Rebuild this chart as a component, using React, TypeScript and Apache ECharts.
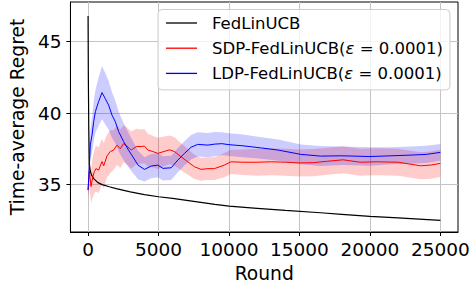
import React, { useEffect, useRef } from "react";
import * as echarts from "echarts";

// ---------- data ----------
const fedX = [0, 20, 50, 90, 150, 250, 400, 700, 1000, 1500, 2000, 3000, 4000, 5000, 6000, 7000, 8000, 9000, 10000, 12000, 14000, 16500, 18000, 20000, 22000, 25000];
const fedY = [46.8, 42.5, 39.0, 36.4, 35.95, 35.65, 35.4, 35.12, 34.98, 34.83, 34.7, 34.47, 34.28, 34.13, 34.02, 33.88, 33.74, 33.6, 33.48, 33.32, 33.17, 33.01, 32.9, 32.76, 32.65, 32.47];

const sdpX = [0, 90, 210, 330, 450, 560, 750, 990, 1110, 1350, 1580, 1810, 2050, 2290, 2520, 2750, 3060, 3420, 3770, 4000, 4250, 4600, 4950, 5310, 5780, 6130, 6600, 7080, 7550, 8020, 8500, 8960, 9670, 10140, 11000, 12000, 13000, 14000, 15000, 16000, 17000, 18100, 19300, 20500, 22000, 23600, 24300, 25000];
const sdpMean = [34.6, 35.9, 34.85, 35.5, 35.9, 36.1, 36.0, 36.6, 36.3, 37.0, 37.3, 37.4, 37.75, 37.5, 37.85, 37.7, 37.4, 37.65, 37.65, 37.68, 37.4, 37.3, 37.17, 37.28, 37.42, 37.3, 36.93, 36.58, 36.23, 36.05, 36.1, 36.1, 36.35, 36.58, 36.55, 36.55, 36.58, 36.55, 36.5, 36.52, 36.62, 36.72, 36.55, 36.58, 36.55, 36.3, 36.35, 36.47];
const sdpHalf = [0.6, 1.0, 1.2, 1.4, 1.5, 1.6, 1.6, 1.6, 1.6, 1.5, 1.5, 1.4, 1.4, 1.35, 1.3, 1.3, 1.3, 1.25, 1.2, 1.2, 1.15, 1.1, 1.1, 1.05, 1.0, 1.0, 0.95, 0.9, 0.85, 0.8, 0.8, 0.8, 0.85, 0.85, 0.9, 0.95, 0.95, 0.95, 0.95, 0.95, 0.95, 0.95, 0.95, 0.95, 0.95, 0.95, 0.95, 0.95];

const ldpX = [0, 80, 160, 280, 400, 520, 750, 990, 1225, 1460, 1700, 1930, 2170, 2520, 2870, 3230, 3540, 4000, 4480, 4950, 5310, 5900, 6370, 6840, 7310, 7780, 8500, 9000, 9500, 10000, 11000, 12300, 13500, 15100, 16500, 18000, 20000, 21500, 22900, 24000, 25000];
const ldpMean = [34.6, 36.0, 37.75, 38.45, 39.4, 40.1, 40.8, 41.43, 41.0, 40.55, 39.85, 39.4, 38.7, 38.0, 37.4, 36.85, 36.35, 36.05, 36.28, 36.35, 36.12, 36.16, 36.7, 37.17, 37.6, 37.8, 37.75, 37.82, 37.85, 37.78, 37.7, 37.55, 37.4, 37.1, 36.98, 37.0, 36.95, 37.0, 37.05, 37.1, 37.24];
const ldpHalf = [0.5, 0.8, 1.0, 1.2, 1.4, 1.5, 1.7, 1.85, 1.8, 1.7, 1.6, 1.5, 1.4, 1.3, 1.2, 1.1, 1.0, 0.85, 0.85, 0.85, 0.85, 0.85, 0.85, 0.85, 0.85, 0.85, 0.85, 0.85, 0.8, 0.8, 0.8, 0.75, 0.75, 0.7, 0.7, 0.65, 0.65, 0.6, 0.6, 0.6, 0.58];

const xTicks = [0, 5000, 10000, 15000, 20000, 25000];
const yTicks = [35, 40, 45];

const names = ["FedLinUCB", "SDP-FedLinUCB(ε = 0.0001)", "LDP-FedLinUCB(ε = 0.0001)"];
const colors = ["#000000", "#ff0000", "#0000ff"];
// -----------------------------------------------------

const FONT = "DejaVu Sans";

function bandSeries(id: string, xs: number[], mean: number[], half: number[], fill: string) {
  const data = xs.map((x, i) => [x, mean[i] - half[i], mean[i] + half[i]]);
  return {
    type: "custom",
    name: id,
    silent: true,
    clip: true,
    z: 1,
    data,
    encode: { x: 0, y: [1, 2] },
    renderItem: (params: any, api: any) => {
      if (params.dataIndex !== 0) return null;
      const pts: number[][] = [];
      for (let i = 0; i < data.length; i++) pts.push(api.coord([data[i][0], data[i][2]]));
      for (let i = data.length - 1; i >= 0; i--) pts.push(api.coord([data[i][0], data[i][1]]));
      return {
        type: "polygon",
        shape: { points: pts },
        style: { fill, stroke: "none" },
      };
    },
  };
}

function lineSeries(name: string, xs: number[], ys: number[], color: string, width: number) {
  return {
    type: "line",
    name,
    data: xs.map((x, i) => [x, ys[i]]),
    showSymbol: false,
    symbol: "none",
    z: 3,
    lineStyle: { color, width },
    itemStyle: { color },
  };
}

export default function App() {
  const ref = useRef<HTMLDivElement>(null);
  useEffect(() => {
    if (!ref.current) return;
    const chart = echarts.init(ref.current, undefined, { renderer: "svg" });
    chart.setOption({
      animation: false,
      backgroundColor: "#ffffff",
      grid: {
        left: 69.5,
        right: 15,
        top: 2,
        bottom: 58,
        show: true,
        borderColor: "#000",
        borderWidth: 1,
        backgroundColor: "transparent",
      },
      legend: {
        data: names.map((n, i) => ({ name: n, icon: "rect", itemStyle: { color: colors[i] } })),
        orient: "vertical",
        left: 158,
        top: 9.5,
        itemWidth: 31,
        itemHeight: 1.3,
        itemGap: 8.2,
        padding: [5, 7, 8, 8],
        backgroundColor: "rgba(255,255,255,0.8)",
        borderColor: "#cccccc",
        borderWidth: 1,
        borderRadius: 4,
        formatter: (n: string) => n.replace("ε", "{i|ε}"),
        textStyle: {
          fontFamily: FONT,
          fontSize: 16.5,
          color: "#000",
          padding: [0, 0, 0, 10],
          rich: {
            i: { fontFamily: FONT, fontStyle: "italic", fontSize: 16.5, color: "#000" },
          },
        },
      },
      xAxis: {
        type: "value",
        min: -1250,
        max: 26250,
        minInterval: 5000,
        maxInterval: 5000,
        name: "Round",
        nameLocation: "middle",
        nameGap: 32,
        nameTextStyle: { fontFamily: FONT, fontSize: 18.7, color: "#000" },
        axisLine: { show: true, onZero: false, lineStyle: { color: "#000", width: 1 } },
        axisTick: { show: true, length: 4, inside: false, customValues: xTicks, lineStyle: { color: "#000" } },
        axisLabel: {
          customValues: xTicks,
          formatter: (v: number) => String(v),
          margin: 8,
          fontFamily: FONT,
          fontSize: 18.5,
          color: "#000",
        },
        splitLine: { show: true, lineStyle: { color: "#c4c4c4", width: 1 } },
      },
      yAxis: {
        type: "value",
        min: 31.66,
        max: 47.78,
        minInterval: 5,
        maxInterval: 5,
        name: "Time-average Regret",
        nameLocation: "middle",
        nameGap: 40,
        nameTextStyle: { fontFamily: FONT, fontSize: 18.7, color: "#000" },
        axisLine: { show: true, onZero: false, lineStyle: { color: "#000", width: 1 } },
        axisTick: { show: true, length: 4, inside: false, customValues: yTicks, lineStyle: { color: "#000" } },
        axisLabel: {
          customValues: yTicks,
          formatter: (v: number) => String(v),
          margin: 9,
          fontFamily: FONT,
          fontSize: 18.5,
          color: "#000",
        },
        splitLine: { show: true, lineStyle: { color: "#c4c4c4", width: 1 } },
      },
      series: [
        bandSeries("sdp-band", sdpX, sdpMean, sdpHalf, "rgba(255,0,0,0.2)"),
        bandSeries("ldp-band", ldpX, ldpMean, ldpHalf, "rgba(0,0,255,0.2)"),
        lineSeries(names[0], fedX, fedY, colors[0], 1.2),
        lineSeries(names[1], sdpX, sdpMean, colors[1], 1),
        lineSeries(names[2], ldpX, ldpMean, colors[2], 1),
      ],
    });
    return () => chart.dispose();
  }, []);
  return (
    <div
      ref={ref}
      style={{ position: "fixed", left: 0, top: 0, width: 473, height: 290 }}
    />
  );
}
